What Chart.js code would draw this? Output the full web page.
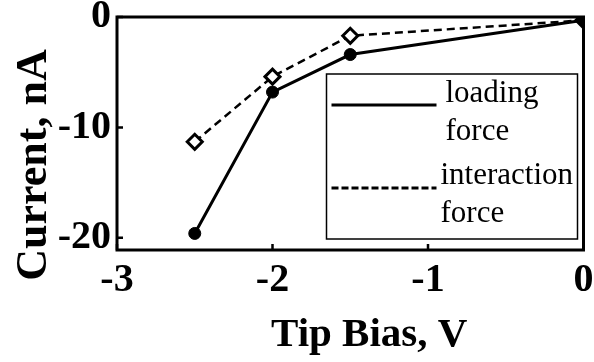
<!DOCTYPE html>
<html>
<head>
<meta charset="utf-8">
<script src="https://cdn.jsdelivr.net/npm/chart.js@4/dist/chart.umd.min.js"></script>
<style>
  html, body { margin: 0; padding: 0; background: #fff; }
  #wrap { width: 594px; height: 362px; }
</style>
</head>
<body>
<div id="wrap"><canvas id="c" width="594" height="362"></canvas></div>
<script>
// Tip bias (V) and measured current (nA)
const tipBias = [-2.5, -2, -1.5, 0];
const loadingCurrent = [-19.6, -6.8, -3.4, -0.3];
const interactionCurrent = [-11.3, -5.4, -1.7, -0.3];

const xTicks = [-3, -2, -1, 0];
const yTicks = [-20, -10, 0];
const xRange = [-3, 0];
const yRange = [-21.1, 0];

const xTitle = 'Tip Bias, V';
const yTitle = 'Current, nA';
const seriesNames = [['loading', 'force'], ['interaction', 'force']];

const SERIF = '"Liberation Serif", "Times New Roman", serif';

// Axis titles, frame around the plot, inward tick marks and the boxed legend
const framePlugin = {
  id: 'frame',
  afterDraw(chart) {
    const ctx = chart.ctx;
    const a = chart.chartArea;
    const xs = chart.scales.x, ys = chart.scales.y;
    ctx.save();
    ctx.strokeStyle = '#000';
    ctx.fillStyle = '#000';
    ctx.lineWidth = 3;
    ctx.strokeRect(a.left, a.top, a.right - a.left, a.bottom - a.top);

    ctx.lineWidth = 2.5;
    ctx.beginPath();
    xTicks.forEach(v => {
      const px = xs.getPixelForValue(v);
      ctx.moveTo(px, a.bottom);
      ctx.lineTo(px, a.bottom - 6);
    });
    yTicks.forEach(v => {
      const py = ys.getPixelForValue(v);
      ctx.moveTo(a.left, py);
      ctx.lineTo(a.left + 6, py);
    });
    ctx.stroke();

    // axis titles
    ctx.font = 'bold 41px ' + SERIF;
    ctx.textAlign = 'center';
    ctx.textBaseline = 'alphabetic';
    ctx.fillText(xTitle, (a.left + a.right) / 2 + 19, 346);
    ctx.save();
    ctx.translate(46, 165);
    ctx.rotate(-Math.PI / 2);
    ctx.font = 'bold 44px ' + SERIF;
    ctx.fillText(yTitle, 0, 0);
    ctx.restore();

    // legend box
    const bx = a.right - 257, by = a.top + 57, bw = 251, bh = 165;
    ctx.fillStyle = '#fff';
    ctx.fillRect(bx, by, bw, bh);
    ctx.lineWidth = 1.5;
    ctx.strokeRect(bx, by, bw, bh);

    ctx.font = '31px ' + SERIF;
    ctx.fillStyle = '#000';
    ctx.textAlign = 'left';
    const entries = [
      { ds: chart.data.datasets[0], lineY: by + 31, textX: bx + 119, base: by + 28, dash: [] },
      { ds: chart.data.datasets[1], lineY: by + 114, textX: bx + 114, base: by + 110, dash: [7, 3] }
    ];
    entries.forEach((e, i) => {
      ctx.save();
      ctx.lineWidth = 3;
      ctx.setLineDash(e.dash);
      ctx.beginPath();
      ctx.moveTo(bx + 5, e.lineY);
      ctx.lineTo(bx + 110, e.lineY);
      ctx.stroke();
      ctx.restore();
      seriesNames[i].forEach((t, k) => {
        ctx.fillText(t, e.textX, e.base + k * 38);
      });
    });
    ctx.restore();
  }
};

new Chart(document.getElementById('c'), {
  type: 'line',
  data: {
    datasets: [
      {
        label: seriesNames[0].join(' '),
        data: tipBias.map((x, i) => ({ x, y: loadingCurrent[i] })),
        borderColor: '#000',
        borderWidth: 3,
        pointStyle: 'circle',
        pointRadius: 6,
        pointBackgroundColor: '#000',
        pointBorderColor: '#000',
        pointBorderWidth: 1,
        tension: 0
      },
      {
        label: seriesNames[1].join(' '),
        data: tipBias.map((x, i) => ({ x, y: interactionCurrent[i] })),
        borderColor: '#000',
        borderWidth: 2.5,
        borderDash: [8, 5],
        pointStyle: 'rectRot',
        pointRadius: 7.5,
        pointBackgroundColor: '#fff',
        pointBorderColor: '#000',
        pointBorderWidth: 3,
        tension: 0
      }
    ]
  },
  options: {
    responsive: false,
    animation: false,
    devicePixelRatio: 1,
    layout: { padding: { top: 17, right: 9, left: 0, bottom: 0 } },
    plugins: { legend: { display: false }, tooltip: { enabled: false } },
    scales: {
      x: {
        type: 'linear',
        min: xRange[0],
        max: xRange[1],
        afterBuildTicks: s => { s.ticks = xTicks.map(v => ({ value: v })); },
        afterFit: s => { s.height = 112; s.paddingLeft = 0; s.paddingRight = 0; },
        grid: { display: false, drawTicks: false },
        border: { display: false },
        ticks: {
          color: '#000',
          padding: 11,
          font: { family: SERIF, size: 40, weight: 'bold', lineHeight: 1 },
          callback: v => String(v)
        },
        title: { display: false }
      },
      y: {
        type: 'linear',
        min: yRange[0],
        max: yRange[1],
        afterBuildTicks: s => { s.ticks = yTicks.map(v => ({ value: v })); },
        afterFit: s => { s.width = 117; s.paddingTop = 0; s.paddingBottom = 0; },
        grid: { display: false, drawTicks: false },
        border: { display: false },
        ticks: {
          color: '#000',
          padding: 6,
          font: { family: SERIF, size: 40, weight: 'bold', lineHeight: 1 },
          callback: v => String(v)
        },
        title: { display: false }
      }
    }
  },
  plugins: [framePlugin]
});
</script>
</body>
</html>
